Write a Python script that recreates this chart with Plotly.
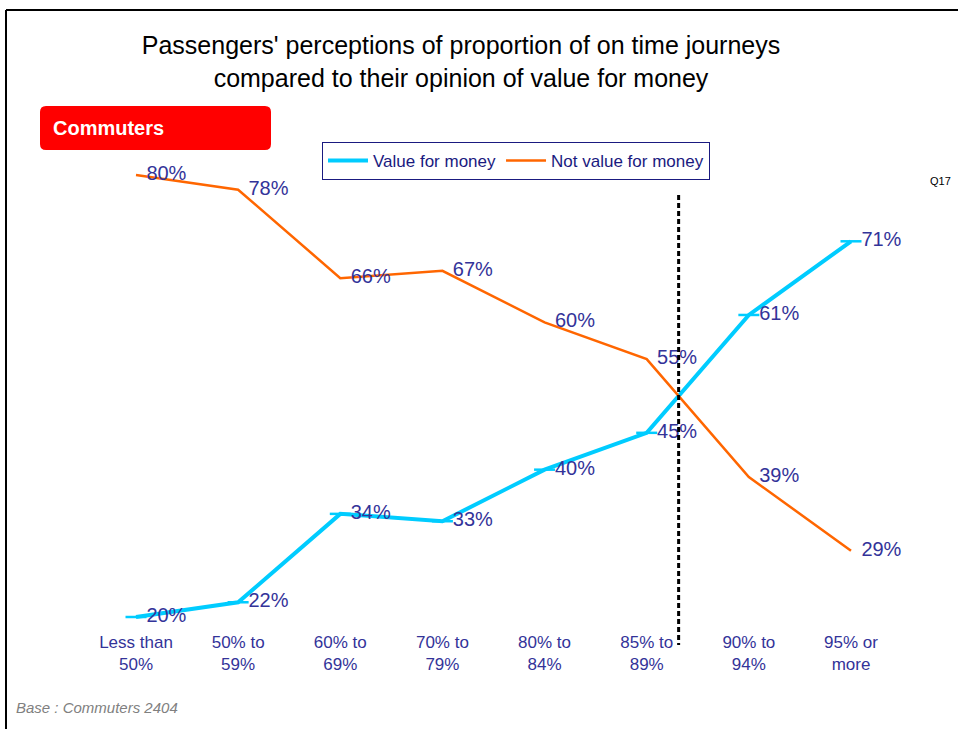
import plotly.graph_objects as go

# Journey punctuality bands and the share of commuters in each view
categories = ["Less than<br>50%", "50% to<br>59%", "60% to<br>69%", "70% to<br>79%",
              "80% to<br>84%", "85% to<br>89%", "90% to<br>94%", "95% or<br>more"]
value_for_money = [20, 22, 34, 33, 40, 45, 61, 71]
not_value_for_money = [80, 78, 66, 67, 60, 55, 39, 29]

BLUE = "#00CCFF"
ORANGE = "#FF6600"
LABEL = "#333399"
FONT = "Liberation Sans, Arial, sans-serif"

W_PX, H_PX = 958, 729
PL, PR, PT, PB = 80, 910, 130, 630
PW, PH = PR - PL, PB - PT


def fx(px):
    return (px - PL) / PW


def fy(py):
    return (PB - py) / PH


xs = list(range(len(categories)))

# Point where the two lines cross (between the 85-89% and 90-94% bands)
i = 5
d0 = value_for_money[i] - not_value_for_money[i]
d1 = value_for_money[i + 1] - not_value_for_money[i + 1]
cross_x = xs[i] + d0 / (d0 - d1)

fig = go.Figure()
fig.add_trace(go.Scatter(
    x=xs, y=value_for_money, name="Value for money",
    mode="lines+markers+text",
    line=dict(color=BLUE, width=4),
    marker=dict(symbol="line-ew", size=15, line=dict(color=BLUE, width=2.5)),
    text=[f"{v}%" for v in value_for_money], textposition="middle right",
    textfont=dict(family=FONT, size=20, color=LABEL),
    cliponaxis=False,
))
fig.add_trace(go.Scatter(
    x=xs, y=not_value_for_money, name="Not value for money",
    mode="lines+markers+text",
    line=dict(color=ORANGE, width=2.5),
    marker=dict(symbol="line-ew", size=15, opacity=0, line=dict(color=ORANGE, width=0)),
    text=[f"{v}%" for v in not_value_for_money], textposition="middle right",
    textfont=dict(family=FONT, size=20, color=LABEL),
    cliponaxis=False,
))

shapes = [
    # frame edges
    dict(type="line", xref="paper", yref="paper", x0=fx(6), x1=fx(6), y0=fy(10), y1=fy(760),
         line=dict(color="black", width=2)),
    dict(type="line", xref="paper", yref="paper", x0=fx(6), x1=fx(990), y0=fy(10), y1=fy(10),
         line=dict(color="black", width=2)),
    # vertical marker at the crossing point
    dict(type="line", xref="x", yref="paper", x0=cross_x, x1=cross_x, y0=fy(195), y1=fy(645),
         line=dict(color="black", width=3, dash="5px,3px")),
]

# rounded red tab behind the segment name
bx0, bx1, by0, by1, r = 40, 271, 106, 150, 6
path = (f"M {fx(bx0 + r)},{fy(by0)} L {fx(bx1 - r)},{fy(by0)} "
        f"Q {fx(bx1)},{fy(by0)} {fx(bx1)},{fy(by0 + r)} "
        f"L {fx(bx1)},{fy(by1 - r)} Q {fx(bx1)},{fy(by1)} {fx(bx1 - r)},{fy(by1)} "
        f"L {fx(bx0 + r)},{fy(by1)} Q {fx(bx0)},{fy(by1)} {fx(bx0)},{fy(by1 - r)} "
        f"L {fx(bx0)},{fy(by0 + r)} Q {fx(bx0)},{fy(by0)} {fx(bx0 + r)},{fy(by0)} Z")
shapes.append(dict(type="path", xref="paper", yref="paper", path=path,
                   fillcolor="#FF0000", line=dict(width=0), layer="above"))

annotations = [
    dict(text="<b>Commuters</b>", xref="paper", yref="paper", x=fx(51), y=fy(128),
         xanchor="left", yanchor="middle", showarrow=False,
         font=dict(family=FONT, size=20, color="white")),
    dict(text="Q17", xref="paper", yref="paper", x=fx(940), y=fy(181),
         xanchor="center", yanchor="middle", showarrow=False,
         font=dict(family=FONT, size=11, color="black")),
    dict(text="<i>Base : Commuters 2404</i>", xref="paper", yref="paper", x=fx(14), y=fy(707),
         xanchor="left", yanchor="middle", showarrow=False,
         font=dict(family=FONT, size=15, color="#808080")),
]

# vertical scale: 20% at y=617px, 80% at y=175px
ppp = (617 - 175) / 60.0
y_top = 20 + (617 - PT) / ppp
y_bot = 20 - (PB - 617) / ppp
x_left = (PL - 136) / ((851 - 136) / 7)
x_right = 7 + (PR - 851) / ((851 - 136) / 7)

fig.update_layout(
    width=W_PX, height=H_PX, autosize=False,
    margin=dict(l=PL, r=W_PX - PR, t=PT, b=H_PX - PB, pad=0),
    paper_bgcolor="white", plot_bgcolor="white",
    font=dict(family=FONT, color=LABEL),
    title=dict(
        text="Passengers' perceptions of proportion of on time journeys<br>"
             "compared to their opinion of value for money",
        x=461 / W_PX, xanchor="center", xref="container",
        y=1 - 54 / H_PX, yanchor="top", yref="container",
        font=dict(family=FONT, size=25, color="black"),
    ),
    xaxis=dict(
        range=[x_left, x_right], tickmode="array", tickvals=xs, ticktext=categories,
        showgrid=False, zeroline=False, showline=False, ticks="",
        tickfont=dict(family=FONT, size=17, color=LABEL),
    ),
    yaxis=dict(range=[y_bot, y_top], visible=False),
    showlegend=True,
    legend=dict(
        orientation="h", x=fx(322), y=fy(142), xanchor="left", yanchor="top",
        bordercolor="#1A1A80", borderwidth=1, bgcolor="white",
        font=dict(family=FONT, size=17, color="#1A1A80"),
        itemwidth=40,
    ),
    shapes=shapes,
    annotations=annotations,
)

fig.write_html("out.html")
